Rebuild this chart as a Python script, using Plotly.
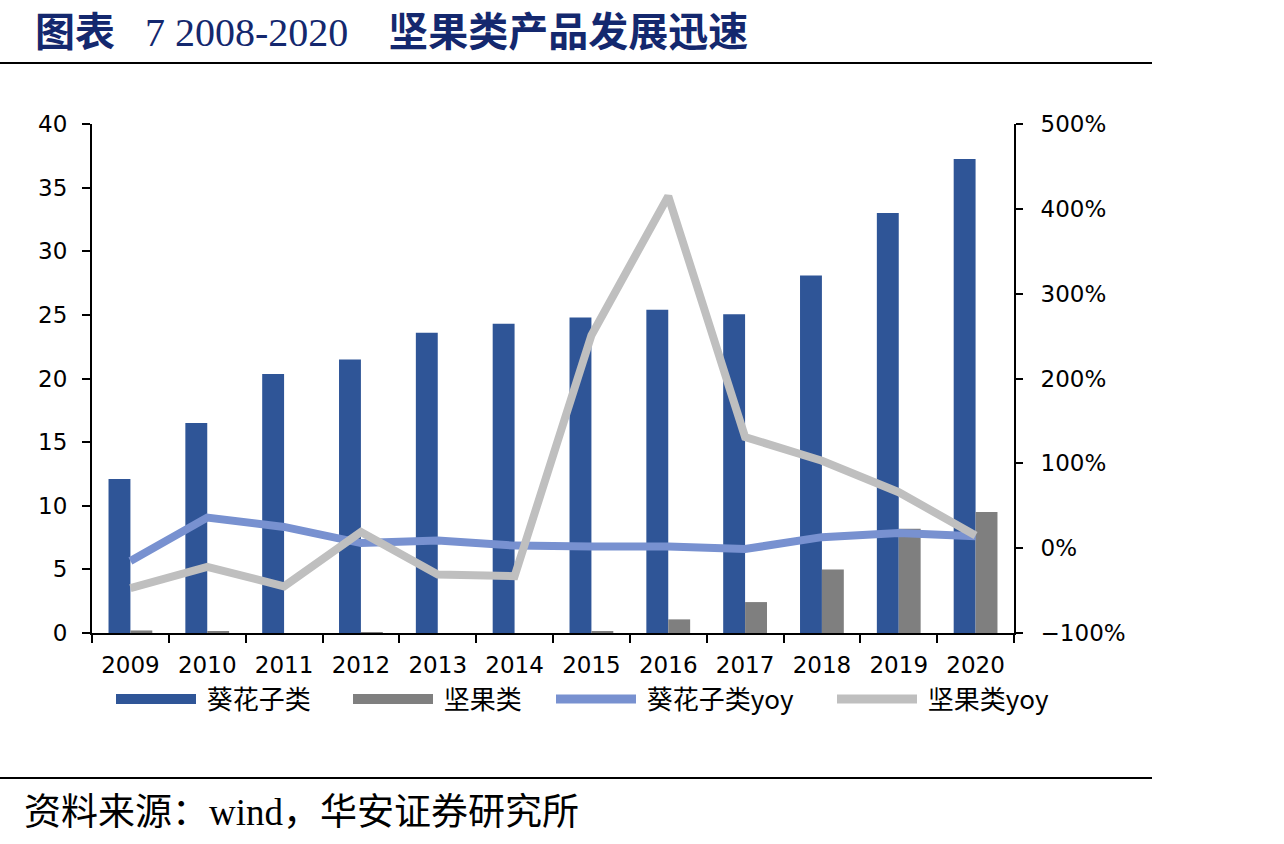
import plotly.graph_objects as go

years = ["2009", "2010", "2011", "2012", "2013", "2014", "2015", "2016", "2017", "2018", "2019", "2020"]
sunflower = [12.1, 16.5, 20.35, 21.5, 23.6, 24.3, 24.8, 25.4, 25.05, 28.1, 33.0, 37.25]
nuts = [0.2, 0.1, 0.0, 0.05, 0.0, 0.0, 0.15, 1.07, 2.43, 5.0, 8.2, 9.5]
sunflower_yoy = [-15, 36, 25, 6, 9, 3, 2, 2, -1, 13, 18, 14]
nuts_yoy = [-47, -22, -45, 19, -31, -33, 251, 415, 131, 103, 66, 15]

C_SUN, C_NUT, C_SUN_YOY, C_NUT_YOY = "#2F5597", "#7F7F7F", "#7891D0", "#BFBFBF"

L, R, T, B = 92, 1014, 124, 633
W, H = R - L, B - T

def px(x):
    return (x - L) / W

def py(y):
    return (B - y) / H

fig = go.Figure()
fig.add_trace(go.Bar(x=years, y=sunflower, name="葵花子类", marker_color=C_SUN,
                     marker_line_width=0, showlegend=False))
fig.add_trace(go.Bar(x=years, y=nuts, name="坚果类", marker_color=C_NUT,
                     marker_line_width=0, showlegend=False))
fig.add_trace(go.Scatter(x=years, y=sunflower_yoy, name="葵花子类yoy", yaxis="y2",
                         mode="lines", line=dict(color=C_SUN_YOY, width=8), showlegend=False))
fig.add_trace(go.Scatter(x=years, y=nuts_yoy, name="坚果类yoy", yaxis="y2",
                         mode="lines", line=dict(color=C_NUT_YOY, width=8), showlegend=False))

# legend entries (wide swatches like the original)
legend_items = [("葵花子类", C_SUN, 14, "legend", 115),
                ("坚果类", C_NUT, 14, "legend2", 352),
                ("葵花子类yoy", C_SUN_YOY, 9, "legend3", 555),
                ("坚果类yoy", C_NUT_YOY, 9, "legend4", 836)]
for name, color, w, lg, _ in legend_items:
    fig.add_trace(go.Scatter(x=[None], y=[None], name=" " + name, mode="lines",
                             line=dict(color=color, width=w), legend=lg, showlegend=True))

tickfont = dict(family="DejaVu Sans", size=23, color="#000000")
legfont = dict(family="Noto Sans CJK SC, Liberation Sans", size=26, color="#000000")

legends = {}
for name, color, w, lg, x0 in legend_items:
    legends[lg] = dict(orientation="h", x=px(x0 - 4), y=py(699), xanchor="left",
                       yanchor="middle", font=legfont, itemwidth=80,
                       bgcolor="rgba(0,0,0,0)", borderwidth=0)

title_text = ("<b>图表</b>&nbsp;&nbsp;&nbsp;7 2008-2020&nbsp;&nbsp;&nbsp;&nbsp;<b>坚果类产品发展迅速</b>")

fig.update_layout(
    width=1284, height=844,
    margin=dict(l=L, r=1284 - R, t=T, b=844 - B, autoexpand=False),
    paper_bgcolor="white", plot_bgcolor="white",
    barmode="group", bargap=0.43, bargroupgap=0,
    **legends,
    xaxis=dict(type="category", tickson="boundaries", ticks="outside", ticklen=8,
               tickwidth=2, tickcolor="#000", showline=True, linecolor="#000", linewidth=2,
               tickfont=tickfont, showgrid=False, ticklabelstandoff=10),
    yaxis=dict(range=[0, 40], dtick=5, ticks="outside", ticklen=8, tickwidth=2,
               tickcolor="#000", showline=True, linecolor="#000", linewidth=2,
               showgrid=False, zeroline=False, tickfont=tickfont, ticklabelstandoff=10),
    yaxis2=dict(range=[-100, 500], dtick=100, overlaying="y", side="right",
                ticksuffix="%", ticks="outside", ticklen=7, tickwidth=2, tickcolor="#000",
                showline=True, linecolor="#000", linewidth=2, showgrid=False,
                zeroline=False, tickfont=tickfont, ticklabelstandoff=13),
    shapes=[
        dict(type="line", xref="paper", yref="paper", x0=px(0), x1=px(1152),
             y0=py(63), y1=py(63), line=dict(color="#000", width=2)),
        dict(type="line", xref="paper", yref="paper", x0=px(0), x1=px(1152),
             y0=py(778), y1=py(778), line=dict(color="#000", width=2)),
    ],
    annotations=[
        dict(text=title_text, xref="paper", yref="paper",
             x=px(33), y=py(32), xanchor="left", yanchor="middle", showarrow=False,
             font=dict(family="Liberation Serif, Noto Sans CJK SC", size=40, color="#14286E")),
        dict(text="资料来源：wind，华安证券研究所", xref="paper", yref="paper",
             x=px(22), y=py(812), xanchor="left", yanchor="middle", showarrow=False,
             font=dict(family="Liberation Serif, Noto Sans CJK SC", size=37, color="#000000")),
    ],
)

fig.write_html("out.html")
